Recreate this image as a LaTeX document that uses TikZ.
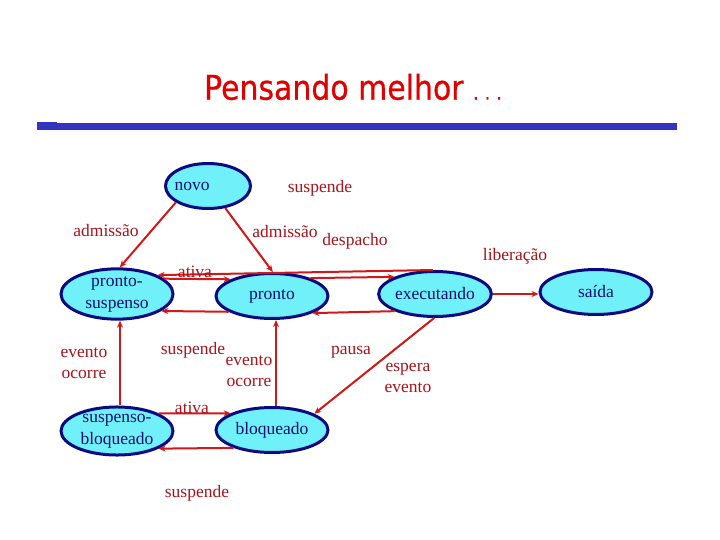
\documentclass[tikz,border=0pt]{standalone}
\usepackage{fontspec}
\setmainfont{Liberation Serif}
\newfontfamily\titlefont[FakeStretch=0.88,FakeBold=0.6]{DejaVu Sans}
\usetikzlibrary{arrows.meta,shapes.geometric}
\definecolor{cyanfill}{HTML}{70F0F8}
\definecolor{navy}{HTML}{0A0A80}
\definecolor{navytext}{HTML}{101070}
\definecolor{arrowred}{HTML}{D01818}
\definecolor{labelred}{HTML}{A8141C}
\definecolor{titlered}{HTML}{E00000}
\definecolor{barblue}{HTML}{3333BB}
\tikzset{
  state/.style={ellipse, draw=navy, line width=3pt, fill=cyanfill, text=navytext,
    minimum width=112pt, minimum height=45pt, inner sep=0pt, align=center,
    font=\fontsize{17.5}{22}\selectfont},
  conn/.style={draw=arrowred, line width=2pt, -{Stealth[length=7pt,width=6pt]}},
  lbl/.style={text=labelred, align=center, inner sep=0pt, font=\fontsize{17.5}{21}\selectfont}
}
\begin{document}
\begin{tikzpicture}[x=1pt,y=-1pt]
\useasboundingbox (0,0) rectangle (720,540);
% title and bar
\node[text=titlered, font=\titlefont\fontsize{34}{38}\selectfont, inner sep=0pt] (title) at (353,87) {Pensando melhor {\fontsize{20}{20}\selectfont .\hspace{6pt}.\hspace{6pt}.}};
\fill[barblue] (37,123) rectangle (677,130);
\fill[barblue] (37,122) rectangle (57,124);
% states
\node[state, minimum width=85pt] (novo) at (208,186) {\kern-32pt novo};
\node[state] (ps) at (117,294) {pronto-\\suspenso};
\node[state] (pronto) at (272,296) {pronto};
\node[state] (exec) at (435,294) {executando};
\node[state] (saida) at (596,292) {saída};
\node[state] (bloq) at (272,430) {bloqueado};
\node[state] (sb) at (117,431) {suspenso-\\bloqueado};
% connectors
\draw[conn] (novo.207) -- (ps.84);
\draw[conn] (novo.308) -- (pronto.88);
\draw[conn] (exec.95) -- (ps.25);
\draw[conn] (ps.18) -- (pronto.158);
\draw[conn] (pronto.25) -- (exec.157);
\draw[conn] (pronto.200) -- (ps.339);
\draw[conn] (exec.203) -- (pronto.337);
\draw[conn] (exec.east) -- (exec.east -| saida.west);
\draw[conn] (exec.268) -- (bloq.21);
\draw[conn] ([xshift=4pt]bloq.north) -- ([xshift=4pt]pronto.south);
\draw[conn] ([xshift=3pt]sb.north) -- ([xshift=3pt]ps.south);
\draw[conn] (sb.23) -- (bloq.158);
\draw[conn] (bloq.205) -- (sb.337);
% labels
\node[lbl] (l1) at (320,188) {suspende};
\node[lbl] (l2) at (106,231) {admissão};
\node[lbl] (l3) at (285,232) {admissão};
\node[lbl] (l4) at (355,241) {despacho};
\node[lbl] (l5) at (515,256) {liberação};
\node[lbl] (l6) at (195,272) {ativa};
\node[lbl] (l7) at (84,363) {evento\\ocorre};
\node[lbl] (l8) at (193,350) {suspende};
\node[lbl] (l9) at (249,371) {evento\\ocorre};
\node[lbl] (l10) at (351,352) {pausa};
\node[lbl] (l11) at (408,378) {espera\\evento};
\node[lbl] (l12) at (192,408) {ativa};
\node[lbl] (l13) at (197,493) {suspende};
\end{tikzpicture}
\end{document}
